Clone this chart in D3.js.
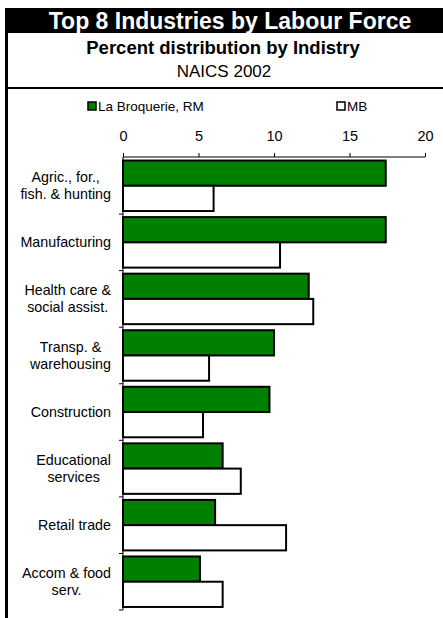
<!DOCTYPE html>
<html>
<head>
<meta charset="utf-8">
<script src="https://cdn.jsdelivr.net/npm/d3@7"></script>
<style>
  body { margin: 0; background: #fff; }
  svg { display: block; font-family: "Liberation Sans", Arial, sans-serif; }
</style>
</head>
<body>
<div class="chart"></div>
<script>
'use strict';
var categories = ['Agric., for., fish. & hunting', 'Manufacturing', 'Health care & social assist.',
    'Transp. & warehousing', 'Construction', 'Educational services', 'Retail trade', 'Accom & food serv.'];
var labelLines = [['Agric., for.,', 'fish. & hunting'], ['Manufacturing'], ['Health care &', 'social assist.'],
    ['Transp. &', 'warehousing'], ['Construction'], ['Educational', 'services'], ['Retail trade'], ['Accom & food', 'serv.']];
var seriesNames = ['La Broquerie, RM', 'MB'];
var broquerie = [17.4, 17.4, 12.3, 10.0, 9.7, 6.6, 6.1, 5.1];
var mb = [6.0, 10.4, 12.6, 5.7, 5.3, 7.8, 10.8, 6.6];
var xTicks = [0, 5, 10, 15, 20];

var width = 443, height = 618;
var svg = d3.select('.chart').append('svg')
    .attr('width', width)
    .attr('height', height);

// title band
svg.append('rect').attr('x', 5).attr('y', 8).attr('width', width - 5).attr('height', 25).style('fill', '#000');
svg.append('text').attr('x', 230).attr('y', 29).attr('text-anchor', 'middle')
    .style('fill', '#fff').style('font-weight', 'bold').style('font-size', '23px')
    .text('Top 8 Industries by Labour Force');
svg.append('text').attr('x', 223).attr('y', 54).attr('text-anchor', 'middle')
    .style('font-weight', 'bold').style('font-size', '18.5px')
    .text('Percent distribution by Indistry');
svg.append('text').attr('x', 224).attr('y', 77).attr('text-anchor', 'middle')
    .style('font-size', '17px')
    .text('NAICS 2002');
// frame lines
svg.append('rect').attr('x', 5).attr('y', 32).attr('width', 3).attr('height', height - 32).style('fill', '#000');
svg.append('rect').attr('x', 5).attr('y', 87).attr('width', width - 5).attr('height', 2).style('fill', '#000');

// legend
var legendX = [87, 336];
var colors = ['#008000', '#fff'];
seriesNames.forEach(function (name, i) {
    svg.append('rect').attr('x', legendX[i] + 1).attr('y', 102).attr('width', 8).attr('height', 8)
        .style('fill', colors[i]).style('stroke', '#000').style('stroke-width', 1.5);
    svg.append('text').attr('x', legendX[i] + 11).attr('y', 111)
        .style('font-size', '13.5px').text(name);
});

var x = d3.scaleLinear().domain([0, 20]).range([123, 425]);
var y = d3.scaleBand().domain(categories).range([157.5, 610]);
var inner = d3.scaleBand().domain(seriesNames).range([0, y.bandwidth()]).paddingOuter(0.12);

// x axis on top
var xAxis = svg.append('g').attr('transform', 'translate(0,157)')
    .call(d3.axisTop(x).tickValues(xTicks).tickSize(4).tickPadding(12));
xAxis.select('.domain').attr('d', 'M' + x(0) + ',0H' + x(20)).style('stroke', '#000');
xAxis.selectAll('text').style('font-size', '14.5px').style('font-family', '"Liberation Sans", Arial, sans-serif');

// y axis
var yAxis = svg.append('g').attr('transform', 'translate(123,0)');
yAxis.append('line').attr('x1', 0).attr('x2', 0).attr('y1', 157).attr('y2', 610).style('stroke', '#000');
yAxis.selectAll('line.tick').data(categories).enter().append('line')
    .attr('class', 'tick')
    .attr('x1', -4).attr('x2', 0)
    .attr('y1', function (d) { return y(d) + y.bandwidth(); })
    .attr('y2', function (d) { return y(d) + y.bandwidth(); })
    .style('stroke', '#000');

var data = [broquerie, mb];
data.forEach(function (vals, s) {
    svg.selectAll('rect.bar' + s).data(categories).enter().append('rect')
        .attr('class', 'bar' + s)
        .attr('x', x(0))
        .attr('y', function (d) { return y(d) + inner(seriesNames[s]); })
        .attr('width', function (d, i) { return x(vals[i]) - x(0); })
        .attr('height', inner.bandwidth())
        .style('fill', colors[s])
        .style('stroke', '#000')
        .style('stroke-width', 2);
});

// category labels: centred block, widest line ends at x=111
categories.forEach(function (c, i) {
    var lines = labelLines[i];
    var cy = y(c) + y.bandwidth() / 2;
    var t = svg.append('text').attr('text-anchor', 'middle').style('font-size', '14.3px');
    var spans = lines.map(function (l, j) {
        return t.append('tspan')
            .attr('y', cy + 5 + (j - (lines.length - 1) / 2) * 17)
            .text(l);
    });
    var maxW = d3.max(spans, function (sp) { return sp.node().getComputedTextLength(); });
    spans.forEach(function (sp) { sp.attr('x', 111 - maxW / 2); });
});
</script>
</body>
</html>
